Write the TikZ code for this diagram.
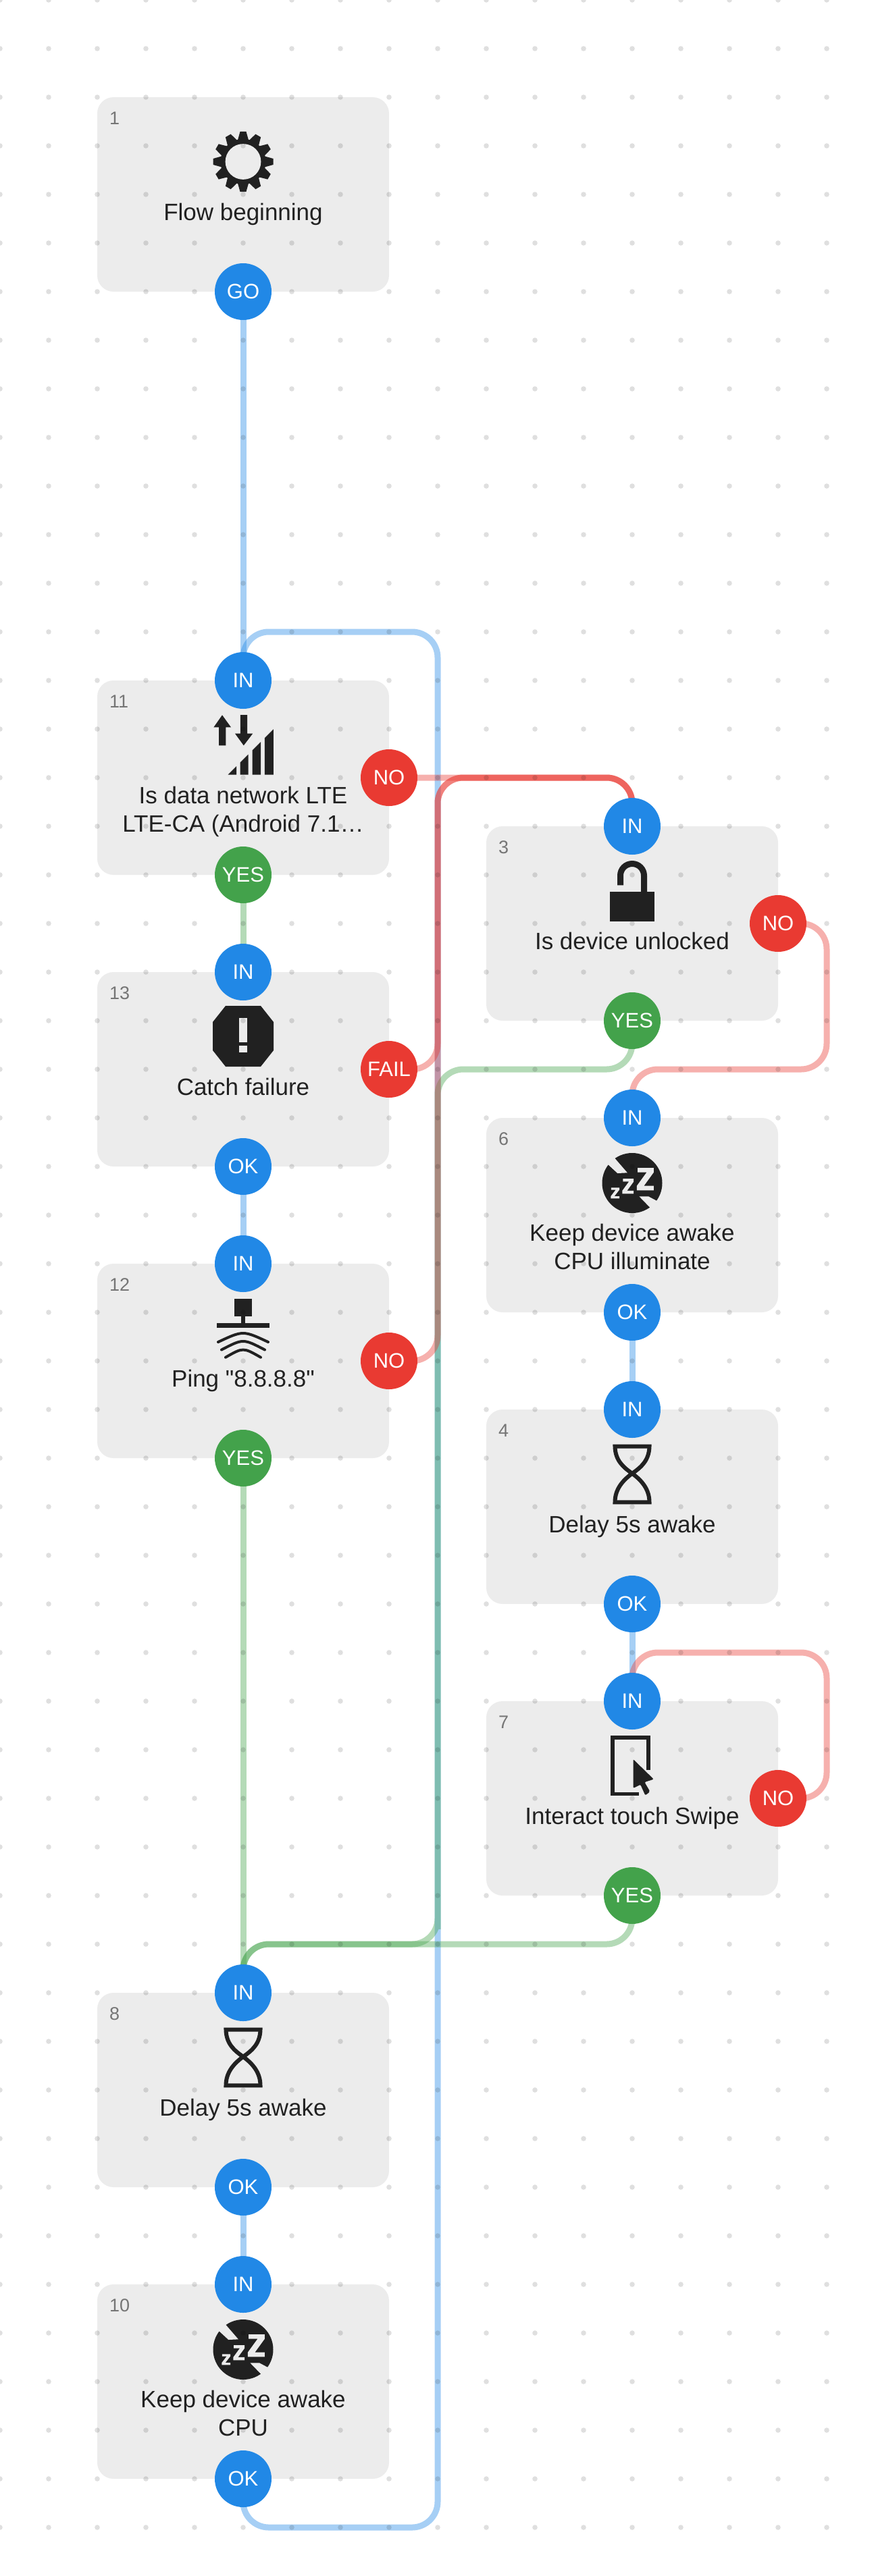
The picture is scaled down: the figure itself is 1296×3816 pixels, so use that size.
\documentclass[tikz,border=0pt]{standalone}
\usepackage{fontspec}
\setmainfont{Liberation Sans}
\usetikzlibrary{calc,backgrounds}
\definecolor{cardgray}{HTML}{ECECEC}
\definecolor{inkblack}{HTML}{212121}
\definecolor{numgray}{HTML}{757575}
\definecolor{flowblue}{HTML}{2188E6}
\definecolor{flowred}{HTML}{E93A32}
\definecolor{flowgreen}{HTML}{43A24B}
\newcommand{\straightquote}{\XeTeXglyph\XeTeXcharglyph"22\relax}
\tikzset{
  card/.style={fill=cardgray,rounded corners=24pt,minimum width=432pt,minimum height=288pt,inner sep=0pt,outer sep=0pt},
  cardnum/.style={font=\fontsize{27}{32}\selectfont,text=numgray,anchor=base west,inner sep=0pt},
  cardtitle/.style={font=\fontsize{35}{42}\selectfont,text=inkblack,align=center,anchor=base,inner sep=0pt},
  port/.style={circle,minimum size=84pt,inner sep=0pt,outer sep=0pt,text=white,font=\fontsize{31}{36}\selectfont},
  portblue/.style={port,fill=flowblue},
  portred/.style={port,fill=flowred},
  portgreen/.style={port,fill=flowgreen},
  link/.style={line width=9pt,draw opacity=.4,rounded corners=38pt},
  linkblue/.style={link,draw=flowblue},
  linkgreen/.style={link,draw=flowgreen},
  linkred/.style={link,draw=flowred},
  griddot/.style={fill=black,fill opacity=.125},
  gearicon/.pic={
    \fill[inkblack] (0,95.5) circle (33.5);
    \foreach \a in {0,30,...,330}{\fill[inkblack,shift={(0,95.5)},rotate=\a] (-8,32) -- (-4.5,44.5) -- (4.5,44.5) -- (8,32) -- cycle;}
    \fill[cardgray] (0,95.5) circle (26.4);
  },
  signalicon/.pic={
    \fill[inkblack] (-31,51.3) -- (-18,69.3) -- (-25.6,69.3) -- (-25.6,96.3) -- (-36,96.3) -- (-36,69.3) -- (-43.6,69.3) -- cycle;
    \fill[inkblack] (0.8,96.3) -- (14.2,78.7) -- (6.2,78.7) -- (6.2,51) -- (-4.2,51) -- (-4.2,78.7) -- (-12,78.7) -- cycle;
    \foreach \xa/\xb in {-22.5/-10,-4.5/7.7,13.5/26,31.8/44.9}{\fill[inkblack] (\xa,139.7) -- (\xb,139.7) -- (\xb,117.2-\xb) -- (\xa,117.2-\xa) -- cycle;}
  },
  stopicon/.pic={
    \fill[inkblack] (-26,50) -- (26,50) -- (45,74) -- (45,116) -- (26,140) -- (-26,140) -- (-45,116) -- (-45,74) -- cycle;
    \fill[cardgray] (-6.3,68) rectangle (6.3,104);
    \fill[cardgray] (-6.3,109) rectangle (6.3,119);
  },
  pingicon/.pic={
    \fill[inkblack] (-13.4,52) rectangle (13.4,78);
    \fill[inkblack] (-3.2,78) rectangle (3.2,88);
    \fill[inkblack] (-38.6,88) rectangle (39,95);
    \draw[inkblack,line width=4pt,line cap=round] (-37,116) .. controls (0,98.7) .. (37,116);
    \draw[inkblack,line width=4pt,line cap=round] (-32,127.5) .. controls (0,110.8) .. (32,127.5);
    \draw[inkblack,line width=4pt,line cap=round] (-26,138.7) .. controls (0,123.8) .. (26,138.7);
  },
  lockicon/.pic={
    \fill[inkblack] (-33,97) rectangle (33,140.7);
    \draw[inkblack,line width=9pt] (-17.5,87.3) -- (-17.5,73) arc (180:360:17.5) -- (17.5,97);
  },
  sleepicon/.pic={
    \fill[inkblack] (0,96.5) circle (44.5);
    \fill[cardgray] (-29,56) -- (-7.1,81.3) -- (-21.7,82) -- (-38,67) -- cycle;
    \fill[cardgray] (10.4,116.3) -- (24,116.3) -- (38.5,124) -- (28.5,135) -- cycle;
    \foreach \zx/\zy/\zw/\zh in {6.9/74/25/33.3,-14.6/90/16.8/22.3,-31.7/103.3/12.7/16}{
      \fill[cardgray,shift={(\zx,\zy)},xscale=\zw,yscale=\zh] (.05,0) -- (1,0) -- (1,.2) -- (.42,.8) -- (1,.8) -- (1,1) -- (0,1) -- (0,.8) -- (.58,.2) -- (.05,.2) -- cycle;}
  },
  hourglassicon/.pic={
    \draw[inkblack,line width=6pt] (-25.5,54.7) -- (25.5,54.7) .. controls (25,75) and (14,85) .. (0,94.7) .. controls (-14,105) and (-25.5,118) .. (-25.5,137.3) -- (25.5,137.3) .. controls (25.5,118) and (14,105) .. (0,94.7) .. controls (-14,85) and (-25,75) .. (-25.5,54.7) -- cycle;
  },
  touchicon/.pic={
    \draw[inkblack,line width=5.5pt] (24.2,102) -- (24.2,53.75) -- (-29,53.75) -- (-29,137.25) -- (10,137.25);
    \fill[inkblack,rounded corners=2pt] (1.5,86) -- (31.9,115.7) -- (18.3,120) -- (26.5,134) -- (19.4,139.6) -- (12.2,123.6) -- (1.5,129) -- cycle;
  },
}

\begin{document}
\begin{tikzpicture}[x=1pt,y=-1pt]
  \useasboundingbox (0,0) rectangle (1296,3816);
  \begin{scope}[on background layer]
    \foreach \num/\xc/\yc/\ty/\cardname in {1/360/144/182.5/{Flow beginning},
      11/360/1008/224/{Is data network LTE\\LTE-CA (Android 7.1…},
      13/360/1440/182.5/{Catch failure},
      12/360/1872/182.5/{Ping \straightquote 8.8.8.8\straightquote},
      3/936/1224/182.5/{Is device unlocked},
      6/936/1656/224/{Keep device awake\\CPU illuminate},
      4/936/2088/182.5/{Delay 5s awake},
      7/936/2520/182.5/{Interact touch Swipe},
      8/360/2952/182.5/{Delay 5s awake},
      10/360/3384/224/{Keep device awake\\CPU}}{
      \node[card] (card\num) at (\xc,\yc+144) {};
      \node[cardnum] (num\num) at (\xc-198,\yc+40.5) {\num};
      \node[cardtitle] (title\num) at (\xc,\yc+\ty) {\cardname};
    }
    \pic at (360,144) {gearicon};
    \pic at (360,1008) {signalicon};
    \pic at (360,1440) {stopicon};
    \pic at (360,1872) {pingicon};
    \pic at (936,1224) {lockicon};
    \pic at (936,1656) {sleepicon};
    \pic at (936,2088) {hourglassicon};
    \pic at (936,2520) {touchicon};
    \pic at (360,2952) {hourglassicon};
    \pic at (360,3384) {sleepicon};
  \end{scope}
  \foreach \port/\pos/\lab in {go1/card1.south/GO,in11/card11.north/IN,in13/card13.north/IN,ok13/card13.south/OK,in12/card12.north/IN,
    in3/card3.north/IN,in6/card6.north/IN,ok6/card6.south/OK,in4/card4.north/IN,ok4/card4.south/OK,in7/card7.north/IN,
    in8/card8.north/IN,ok8/card8.south/OK,in10/card10.north/IN,ok10/card10.south/OK}{\node[portblue] (\port) at (\pos) {\lab};}
  \foreach \port/\pos/\lab in {no11/card11.east/NO,fail13/card13.east/FAIL,no12/card12.east/NO,no3/card3.east/NO,no7/card7.east/NO}{\node[portred] (\port) at (\pos) {\lab};}
  \foreach \port/\pos in {yes11/card11.south,yes12/card12.south,yes3/card3.south,yes7/card7.south}{\node[portgreen] (\port) at (\pos) {YES};}
  \coordinate (bluelow) at (648,3744);
  \coordinate (bluehigh) at (648,936);
  \coordinate (greenhigh) at (648,1584);
  \coordinate (greenlow) at (648,2880);
  \coordinate (redhigh) at (648,1152);
  \coordinate (loopthree) at (1224,1584);
  \coordinate (loopseven) at (1224,2448);
  \begin{scope}[on background layer]
    \draw[linkblue] (go1) -- (in11);
    \draw[linkblue] (ok13) -- (in12);
    \draw[linkblue] (ok6) -- (in4);
    \draw[linkblue] (ok4) -- (in7);
    \draw[linkblue] (ok8) -- (in10);
    \draw[linkblue] (ok10.center) |- (bluelow) -- (bluehigh) -| (in11.center);
    \draw[linkgreen] (yes11) -- (in13);
    \draw[linkgreen] (yes12) -- (in8);
    \draw[linkgreen] (yes3.center) |- (greenhigh) |- (greenlow) -| (in8.center);
    \draw[linkgreen] (yes7.center) |- (greenlow) -| (in8.center);
    \draw[linkred] (no11.center) -| (in3.center);
    \draw[linkred] (fail13.center) -| (redhigh) -| (in3.center);
    \draw[linkred] (no12.center) -| (redhigh) -| (in3.center);
    \draw[linkred] (no3.center) -| (loopthree) -| (in6.center);
    \draw[linkred] (no7.center) -| (loopseven) -| (in7.center);
    \foreach \x in {0,72,...,1224}{\foreach \y in {0,72,...,3744}{\fill[griddot] (\x,\y) circle (3.8);}}
  \end{scope}
\end{tikzpicture}
\end{document}
